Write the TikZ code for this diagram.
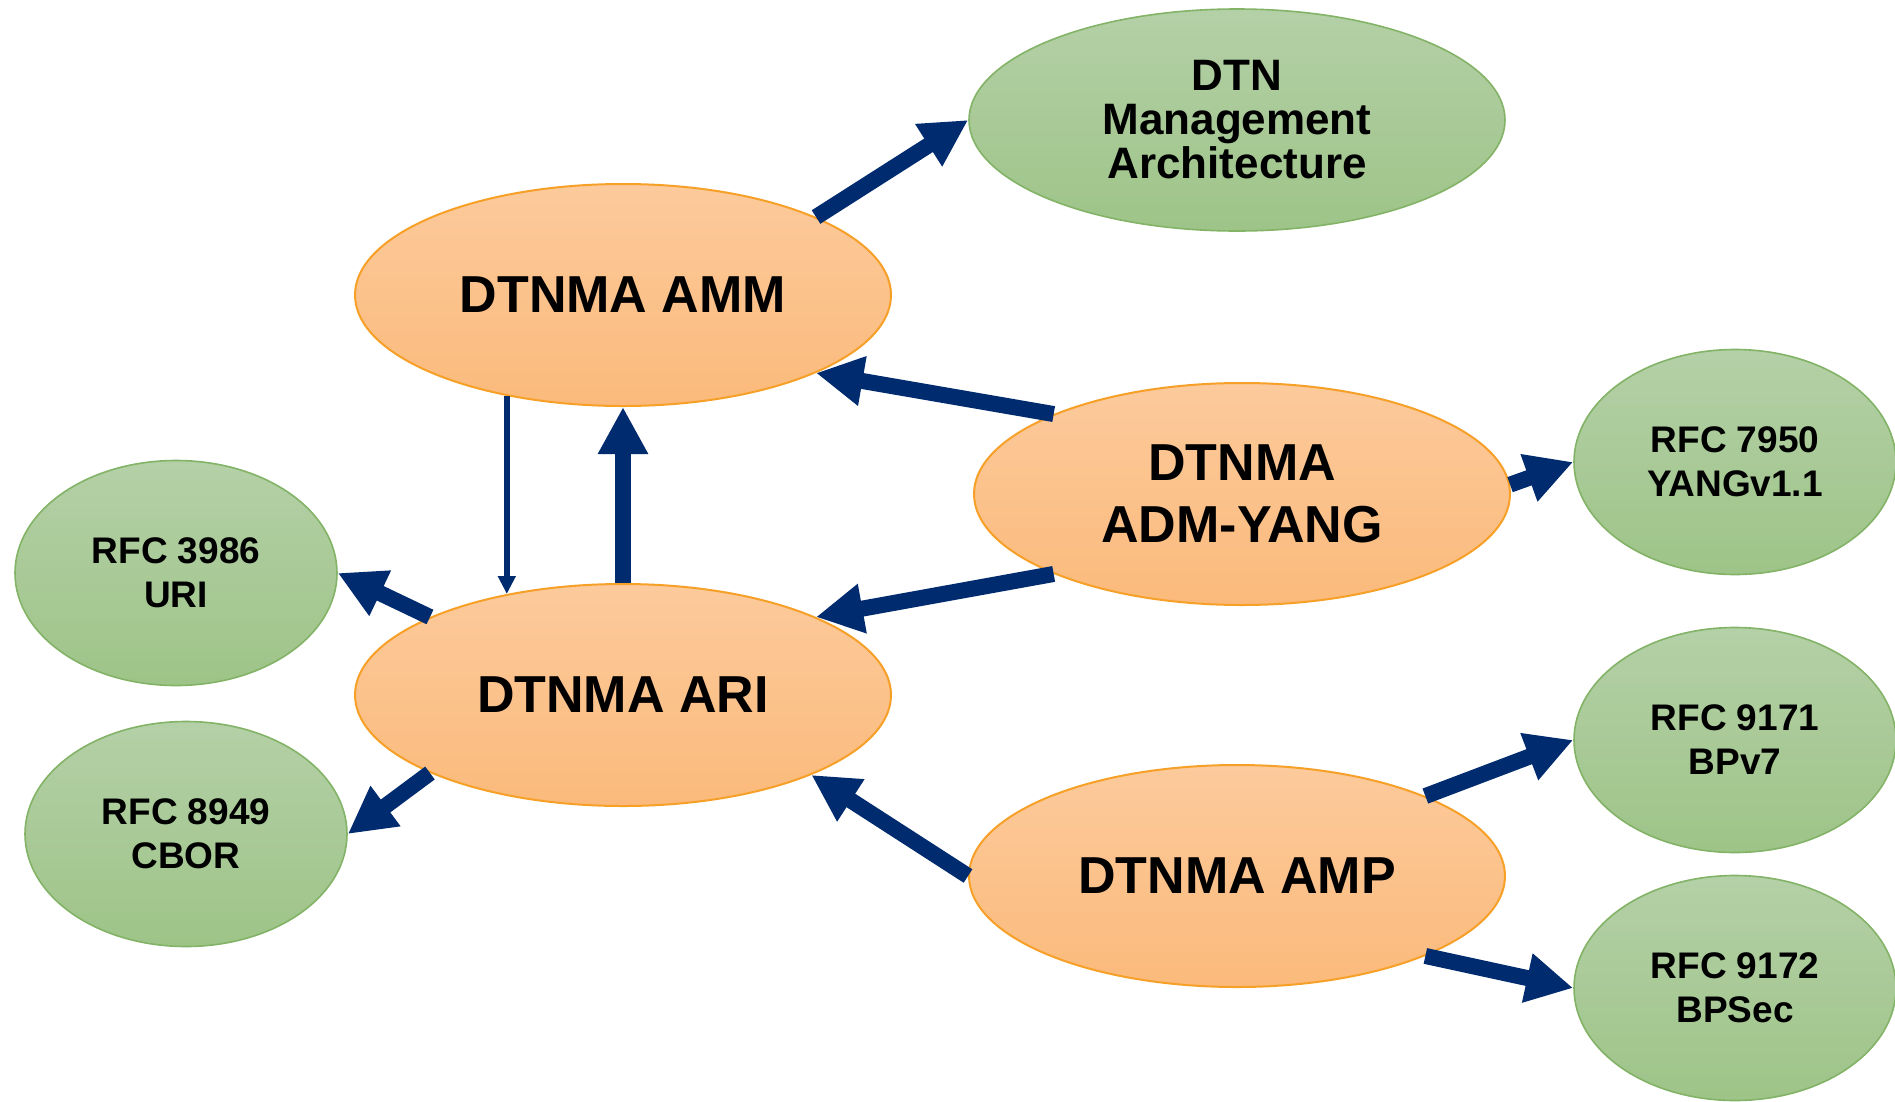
\documentclass[tikz,border=0pt]{standalone}
\usepackage{fontspec}
\setmainfont{Liberation Sans}
\usetikzlibrary{arrows.meta,shapes.geometric}
\definecolor{navy}{RGB}{0,43,111}
\definecolor{ortop}{RGB}{252,202,156}
\definecolor{orbot}{RGB}{251,186,123}
\definecolor{orline}{RGB}{247,160,40}
\definecolor{grtop}{RGB}{180,208,167}
\definecolor{grbot}{RGB}{158,196,136}
\definecolor{grline}{RGB}{130,179,102}
\begin{document}
\begin{tikzpicture}[x=1pt,y=-1pt,
  amabox/.style={ellipse, inner sep=0pt, minimum width=536pt, minimum height=222pt,
    top color=ortop, bottom color=orbot, draw=orline, line width=2pt, align=center,
    font=\fontsize{52}{62}\selectfont\bfseries},
  rfcbox/.style={ellipse, inner sep=0pt, minimum width=322pt, minimum height=225pt,
    top color=grtop, bottom color=grbot, draw=grline, line width=1.6pt, align=center,
    font=\fontsize{37}{44}\selectfont\bfseries},
  bigarrow/.style={draw=navy, line width=16pt, -{Triangle[length=47pt,width=47pt]}},
  thinarrow/.style={draw=navy, line width=6pt, -{Triangle[length=18pt,width=17pt]}}
]
\clip (0,0) rectangle (1895,1101);
\fill[white] (0,0) rectangle (1895,1101);

\node[rfcbox, minimum width=536pt, minimum height=222pt, font=\fontsize{44}{44}\selectfont\bfseries] (dtn) at (1237,120) {DTN\\Management\\Architecture};
\node[amabox] (amm) at (623,295) {DTNMA AMM};
\node[amabox] (adm) at (1242,494) {DTNMA\\ADM-YANG};
\node[amabox] (ari) at (623,695) {DTNMA ARI};
\node[amabox] (amp) at (1237,876) {DTNMA AMP};
\node[rfcbox] (r7950) at (1735,462) {RFC 7950\\YANGv1.1};
\node[rfcbox] (r3986) at (176,573) {RFC 3986\\URI};
\node[rfcbox] (r8949) at (186,834) {RFC 8949\\CBOR};
\node[rfcbox] (r9171) at (1735,740) {RFC 9171\\BPv7};
\node[rfcbox] (r9172) at (1735,988) {RFC 9172\\BPSec};

\draw[bigarrow] (amm.22) -- (dtn.180);
\draw[bigarrow] (adm.157) -- (amm.-22);
\draw[bigarrow] (adm.203) -- (ari.22);
\draw[bigarrow] (adm.2) -- (r7950.180);
\draw[thinarrow] (amm.221) -- (ari.139);
\draw[bigarrow] (ari.north) -- (amm.south);
\draw[bigarrow] (ari.158) -- (r3986.0);
\draw[bigarrow] (ari.202) -- (r8949.0);
\draw[bigarrow] (amp.180) -- (ari.-23);
\draw[bigarrow] (amp.23) -- (r9171.180);
\draw[bigarrow] (amp.-23) -- (r9172.180);
\end{tikzpicture}
\end{document}
